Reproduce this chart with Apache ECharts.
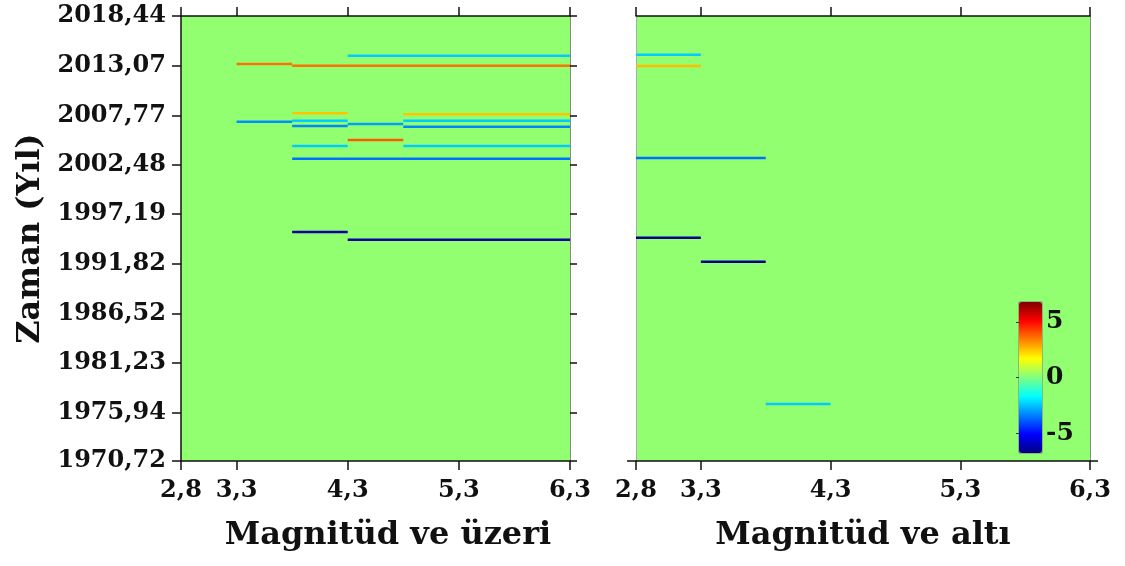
<!DOCTYPE html>
<html>
<head>
<meta charset="utf-8">
<script src="https://cdn.jsdelivr.net/npm/echarts@6/dist/echarts.min.js"></script>
<style>
html,body{margin:0;padding:0;background:#fff;}
#c{width:1125px;height:566px;}
</style>
</head>
<body>
<div id="c"></div>
<script>
// ---- data ----
const xTicks = [2.8, 3.3, 4.3, 5.3, 6.3];
const yTicks = [1970.72, 1975.94, 1981.23, 1986.52, 1991.82, 1997.19, 2002.48, 2007.77, 2013.07, 2018.44];
const cbTicks = [-5, 0, 5];

// left panel: "Magnitüd ve üzeri"
const leftStart = [4.3, 3.3, 3.8, 3.8, 4.8, 3.3, 3.8, 3.8, 4.3, 4.8, 4.8, 4.3, 3.8, 4.8, 3.8, 3.8, 4.3];
const leftEnd   = [6.3, 3.8, 6.3, 4.3, 6.3, 3.8, 4.3, 4.3, 4.8, 6.3, 6.3, 4.8, 4.3, 6.3, 6.3, 4.3, 6.3];
const leftYear  = [2014.18, 2013.29, 2013.11, 2008.01, 2007.90, 2007.11, 2007.21, 2006.64, 2006.86, 2007.21, 2006.57, 2005.14, 2004.50, 2004.50, 2003.14, 1995.28, 1994.45];
const leftValue = [-2.4, 3.6, 3.6, 2.5, 2.5, -3.2, -2.4, -3.3, -3.0, -2.4, -3.3, 3.9, -2.4, -2.4, -3.6, -6.3, -6.3];

// right panel: "Magnitüd ve altı"
const rightStart = [2.8, 2.8, 2.8, 2.8, 3.3, 3.8];
const rightEnd   = [3.3, 3.3, 3.8, 3.3, 3.8, 4.3];
const rightYear  = [2014.29, 2013.08, 2003.21, 1994.67, 1992.09, 1976.83];
const rightValue = [-2.4, 2.6, -3.6, -6.6, -6.6, -2.4];

const cMin = -6.8, cMax = 6.8;
const jet = ['#000080','#0000ff','#0080ff','#00ffff','#80ff80','#ffff00','#ff8000','#ff0000','#800000'];

// ---- build ----
function rows(s, e, y, v) { return s.map((d, i) => [d, e[i], y[i], v[i]]); }
const FONT = 'DejaVu Serif';
const fmt = v => String(v).replace('.', ',');
const black = '#111';

function renderSeg(params, api) {
  const p1 = api.coord([api.value(0), api.value(2)]);
  const p2 = api.coord([api.value(1), api.value(2)]);
  return {
    type: 'line',
    shape: { x1: p1[0], y1: p1[1], x2: p2[0], y2: p2[1] },
    style: { stroke: api.visual('color'), lineWidth: 2.5 }
  };
}

const labelStyle = { fontFamily: FONT, fontWeight: 'bold', fontSize: 24, color: black };
const nameStyle = { fontFamily: FONT, fontWeight: 'bold', fontSize: 32, color: black };

function xAxisBottom(grid, name, pad) {
  return {
    gridIndex: grid, type: 'value', min: 2.8, max: 6.3, position: 'bottom',
    axisLine: { lineStyle: { color: black, width: 1.5 } },
    axisTick: { customValues: xTicks, length: 9, lineStyle: { color: black, width: 1.5 } },
    axisLabel: Object.assign({ customValues: xTicks, formatter: fmt, margin: 18 }, labelStyle),
    splitLine: { show: false },
    name: name, nameLocation: 'middle', nameGap: 59,
    nameTextStyle: Object.assign({ padding: pad }, nameStyle)
  };
}
function xAxisTop(grid) {
  return {
    gridIndex: grid, type: 'value', min: 2.8, max: 6.3, position: 'top',
    axisLine: { lineStyle: { color: black, width: 1.5 } },
    axisTick: { customValues: xTicks, length: 9, lineStyle: { color: black, width: 1.5 } },
    axisLabel: { show: false }, splitLine: { show: false }
  };
}

const option = {
  backgroundColor: '#ffffff',
  animation: false,
  grid: [
    { left: 181, top: 16, width: 389, height: 445, show: true, backgroundColor: '#92ff70', borderWidth: 0 },
    { left: 636, top: 16, width: 454, height: 445, show: true, backgroundColor: '#92ff70', borderWidth: 0 },
    { left: 1019, top: 302, width: 23, height: 151, show: true, backgroundColor: 'transparent', borderColor: '#777', borderWidth: 1 }
  ],
  xAxis: [
    xAxisBottom(0, 'Magnitüd ve üzeri', [0, 0, 0, 25]),
    xAxisTop(0),
    xAxisBottom(1, 'Magnitüd ve altı', [0, 0, 0, 0]),
    xAxisTop(1),
    { gridIndex: 2, type: 'value', min: 0, max: 1, show: false }
  ],
  yAxis: [
    {
      gridIndex: 0, type: 'value', min: 1970.72, max: 2018.44, position: 'left',
      axisLine: { lineStyle: { color: black, width: 1.5 } },
      axisTick: { customValues: yTicks, length: 9, lineStyle: { color: black, width: 1.5 } },
      axisLabel: Object.assign({ customValues: yTicks, formatter: fmt, margin: 15 }, labelStyle),
      splitLine: { show: false },
      name: 'Zaman (Yıl)', nameLocation: 'middle', nameGap: 134,
      nameTextStyle: nameStyle
    },
    {
      gridIndex: 0, type: 'value', min: 1970.72, max: 2018.44, position: 'right',
      axisLine: { lineStyle: { color: '#888', width: 1 } },
      axisTick: { customValues: yTicks, length: 7, lineStyle: { color: black, width: 1.5 } },
      axisLabel: { show: false }, splitLine: { show: false }
    },
    {
      gridIndex: 1, type: 'value', min: 1970.72, max: 2018.44, position: 'left',
      axisLine: { lineStyle: { color: '#aaa', width: 1 } },
      axisTick: { customValues: [1970.72], length: 9, lineStyle: { color: black, width: 1.5 } },
      axisLabel: { show: false }, splitLine: { show: false }
    },
    {
      gridIndex: 1, type: 'value', min: 1970.72, max: 2018.44, position: 'right',
      axisLine: { lineStyle: { color: '#888', width: 1 } },
      axisTick: { customValues: [1970.72], length: 8, lineStyle: { color: black, width: 1.5 } },
      axisLabel: { show: false }, splitLine: { show: false }
    },
    {
      gridIndex: 2, type: 'value', min: cMin, max: cMax, position: 'right',
      axisLine: { show: false },
      axisTick: { customValues: cbTicks, inside: true, length: 3, lineStyle: { color: '#333', width: 1 } },
      axisLabel: Object.assign({ customValues: cbTicks, margin: 4, padding: [4, 0, 0, 0] }, labelStyle, { fontSize: 25 }),
      splitLine: { show: false }
    }
  ],
  visualMap: {
    type: 'continuous', min: cMin, max: cMax, dimension: 3, seriesIndex: [0, 1],
    inRange: { color: jet },
    left: 1014, top: 297, itemWidth: 23, itemHeight: 151, padding: 5,
    calculable: false, text: ['', ''], showLabel: false, hoverLink: false,
    z: 1
  },
  series: [
    {
      type: 'custom', xAxisIndex: 0, yAxisIndex: 0,
      dimensions: ['start', 'end', 'year', 'value'],
      encode: { x: [0, 1], y: 2 },
      renderItem: renderSeg,
      data: rows(leftStart, leftEnd, leftYear, leftValue)
    },
    {
      type: 'custom', xAxisIndex: 2, yAxisIndex: 2,
      dimensions: ['start', 'end', 'year', 'value'],
      encode: { x: [0, 1], y: 2 },
      renderItem: renderSeg,
      data: rows(rightStart, rightEnd, rightYear, rightValue)
    }
  ]
};

const chart = echarts.init(document.getElementById('c'), null, { renderer: 'canvas' });
chart.setOption(option);
</script>
</body>
</html>
